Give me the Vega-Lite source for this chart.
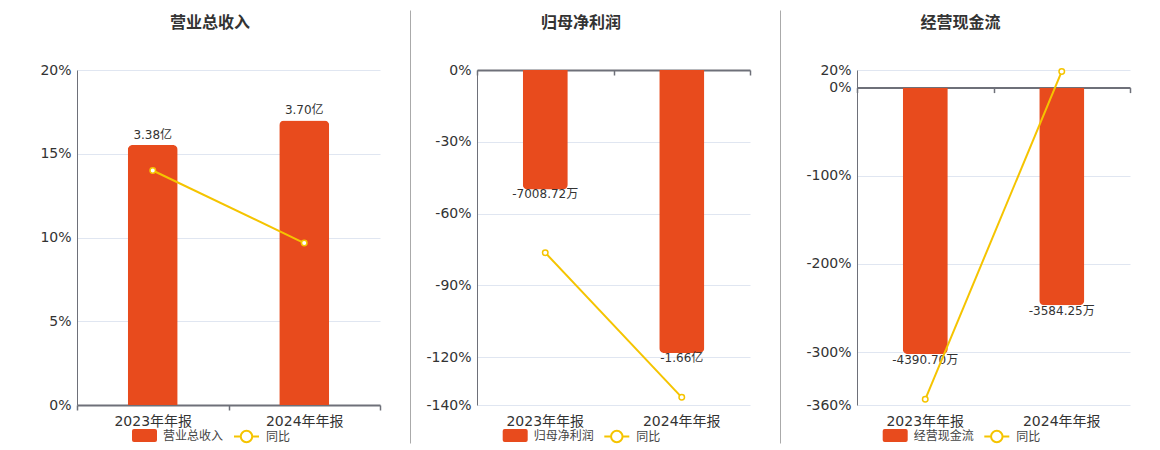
{
  "$schema": "https://vega.github.io/schema/vega-lite/v6.json",
  "padding": {"left": 0, "top": 15, "right": 0, "bottom": 0},
  "autosize": {"type": "pad"},
  "spacing": 4,
  "config": {"view": {"stroke": null}, "font": "DejaVu Sans, Noto Sans CJK SC"},
  "resolve": {"scale": {"color": "independent", "stroke": "independent"}},
  "hconcat": [
    {
      "width": 303,
      "height": 335,
      "title": {"text": "营业总收入", "fontSize": 16, "fontWeight": "bold", "color": "#333333", "font": "DejaVu Sans, Noto Sans CJK SC", "anchor": "middle", "frame": "group", "dx": -18.5, "offset": 32},
      "data": {"values": [
        {"period": "2023年年报", "value": 33800, "label": "3.38亿", "yoy": 14.0, "series": "营业总收入", "s2": "同比"},
        {"period": "2024年年报", "value": 37000, "label": "3.70亿", "yoy": 9.67, "series": "营业总收入", "s2": "同比"}
      ]},
      "layer": [
        {"layer": [
          {"mark": {"type": "bar", "width": {"band": 0.33}, "cornerRadiusTopLeft": 5, "cornerRadiusTopRight": 5},
           "encoding": {
             "x": {"field": "period", "type": "nominal", "sort": null, "scale": {"paddingInner": 0, "paddingOuter": 0},
                   "axis": {"orient": "bottom", "title": null, "domain": true, "domainColor": "#6E7079", "domainWidth": 2, "ticks": true, "tickBand": "extent", "tickSize": 5, "tickColor": "#6E7079", "tickWidth": 1.5, "labelAngle": 0, "labelFontSize": 14, "labelColor": "#333333", "labelFont": "DejaVu Sans, Noto Sans CJK SC", "labelPadding": 4, "grid": false}},
             "y": {"field": "value", "type": "quantitative", "scale": {"domain": [-4941, 51365], "range": [373, -60], "nice": false, "zero": false},
                   "axis": {"orient": "right", "offset": 30, "title": null, "ticks": false, "labels": false, "grid": false, "domain": true, "domainColor": "#AAAAAA", "domainWidth": 1}},
             "color": {"field": "series", "type": "nominal", "scale": {"range": ["#E84B1D"]},
                       "legend": {"orient": "none", "legendX": 55, "legendY": 353, "direction": "horizontal", "title": null, "padding": 0, "symbolType": "M-0.84,-0.52L0.84,-0.52Q1,-0.52,1,-0.36L1,0.36Q1,0.52,0.84,0.52L-0.84,0.52Q-1,0.52,-1,0.36L-1,-0.36Q-1,-0.52,-0.84,-0.52Z", "symbolSize": 625, "symbolStrokeWidth": 0, "labelFontSize": 12, "labelColor": "#444444", "labelFont": "DejaVu Sans, Noto Sans CJK SC", "labelOffset": 6}}
           }},
          {"mark": {"type": "text", "fontSize": 12, "color": "#333333", "dy": -6, "baseline": "alphabetic", "font": "DejaVu Sans, Noto Sans CJK SC"},
           "encoding": {
             "x": {"field": "period", "type": "nominal", "sort": null},
             "y": {"field": "value", "type": "quantitative", "scale": {"domain": [-4941, 51365], "range": [373, -60], "nice": false, "zero": false}},
             "text": {"field": "label"}
           }}
        ]},
        {"mark": {"type": "line", "color": "#F5C400", "strokeWidth": 2, "point": {"filled": false, "fill": "#ffffff", "size": 30, "strokeWidth": 1.5}},
         "encoding": {
           "x": {"field": "period", "type": "nominal", "sort": null, "axis": null},
           "y": {"field": "yoy", "type": "quantitative", "scale": {"domain": [0, 20], "nice": false, "zero": false},
                 "axis": {"orient": "left", "values": [0, 5, 10, 15, 20], "labelExpr": "datum.value + '%'", "title": null, "ticks": false, "domain": true, "domainColor": "#6E7079", "domainWidth": 1, "grid": true, "gridColor": "#E0E6F1", "labelFontSize": 14, "labelColor": "#333333", "labelFont": "DejaVu Sans, Noto Sans CJK SC", "labelPadding": 6, "minExtent": 77, "maxExtent": 77}},
           "stroke": {"field": "s2", "type": "nominal", "scale": {"range": ["#F5C400"]},
                      "legend": {"orient": "none", "legendX": 156, "legendY": 353, "direction": "horizontal", "title": null, "padding": 0, "symbolType": "M-1,0L-0.46,0M0.46,0L1,0M0.46,0A0.46,0.46,0,1,1,-0.46,0A0.46,0.46,0,1,1,0.46,0Z", "symbolSize": 625, "symbolStrokeWidth": 2, "symbolFillColor": "#ffffff", "labelFontSize": 12, "labelColor": "#444444", "labelFont": "DejaVu Sans, Noto Sans CJK SC", "labelOffset": 6}}
         }}
      ],
      "resolve": {"scale": {"y": "independent"}, "axis": {"x": "independent"}}
    },
    {
      "width": 273,
      "height": 335,
      "title": {"text": "归母净利润", "fontSize": 16, "fontWeight": "bold", "color": "#333333", "font": "DejaVu Sans, Noto Sans CJK SC", "anchor": "middle", "frame": "group", "dx": -32.5, "offset": 32},
      "data": {"values": [
        {"period": "2023年年报", "value": -7008.72, "label": "-7008.72万", "yoy": -76.35, "series": "归母净利润", "s2": "同比"},
        {"period": "2024年年报", "value": -16600, "label": "-1.66亿", "yoy": -136.8, "series": "归母净利润", "s2": "同比"}
      ]},
      "layer": [
        {"layer": [
          {"mark": {"type": "bar", "width": {"band": 0.33}, "cornerRadiusBottomLeft": 5, "cornerRadiusBottomRight": 5},
           "encoding": {
             "x": {"field": "period", "type": "nominal", "sort": null, "scale": {"paddingInner": 0, "paddingOuter": 0},
                   "axis": {"orient": "bottom", "title": null, "domain": false, "ticks": false, "labelAngle": 0, "labelFontSize": 14, "labelColor": "#333333", "labelFont": "DejaVu Sans, Noto Sans CJK SC", "labelPadding": 9, "grid": false}},
             "y": {"field": "value", "type": "quantitative", "scale": {"domain": [-21877, 3519], "range": [373, -60], "nice": false, "zero": false},
                   "axis": {"orient": "right", "offset": 30, "title": null, "ticks": false, "labels": false, "grid": false, "domain": true, "domainColor": "#AAAAAA", "domainWidth": 1}},
             "color": {"field": "series", "type": "nominal", "scale": {"range": ["#E84B1D"]},
                       "legend": {"orient": "none", "legendX": 25.7, "legendY": 353, "direction": "horizontal", "title": null, "padding": 0, "symbolType": "M-0.84,-0.52L0.84,-0.52Q1,-0.52,1,-0.36L1,0.36Q1,0.52,0.84,0.52L-0.84,0.52Q-1,0.52,-1,0.36L-1,-0.36Q-1,-0.52,-0.84,-0.52Z", "symbolSize": 625, "symbolStrokeWidth": 0, "labelFontSize": 12, "labelColor": "#444444", "labelFont": "DejaVu Sans, Noto Sans CJK SC", "labelOffset": 6}}
           }},
          {"mark": {"type": "text", "fontSize": 12, "color": "#333333", "dy": 9, "baseline": "alphabetic", "font": "DejaVu Sans, Noto Sans CJK SC"},
           "encoding": {
             "x": {"field": "period", "type": "nominal", "sort": null},
             "y": {"field": "value", "type": "quantitative", "scale": {"domain": [-21877, 3519], "range": [373, -60], "nice": false, "zero": false}},
             "text": {"field": "label"}
           }}
        ]},
        {"mark": {"type": "line", "color": "#F5C400", "strokeWidth": 2, "point": {"filled": false, "fill": "#ffffff", "size": 30, "strokeWidth": 1.5}},
         "encoding": {
           "x": {"field": "period", "type": "nominal", "sort": null,
                 "axis": {"orient": "top", "offset": 0, "title": null, "labels": false, "domain": true, "domainColor": "#6E7079", "domainWidth": 2, "ticks": true, "tickBand": "extent", "tickSize": -5, "tickColor": "#6E7079", "tickWidth": 1.5, "grid": false}},
           "y": {"field": "yoy", "type": "quantitative", "scale": {"domain": [-140, 0], "nice": false, "zero": false},
                 "axis": {"orient": "left", "values": [0, -30, -60, -90, -120, -140], "labelExpr": "datum.value + '%'", "title": null, "ticks": false, "domain": true, "domainColor": "#6E7079", "domainWidth": 1, "grid": true, "gridColor": "#E0E6F1", "labelFontSize": 14, "labelColor": "#333333", "labelFont": "DejaVu Sans, Noto Sans CJK SC", "labelPadding": 6, "minExtent": 62.5, "maxExtent": 62.5}},
           "stroke": {"field": "s2", "type": "nominal", "scale": {"range": ["#F5C400"]},
                      "legend": {"orient": "none", "legendX": 126.3, "legendY": 353, "direction": "horizontal", "title": null, "padding": 0, "symbolType": "M-1,0L-0.46,0M0.46,0L1,0M0.46,0A0.46,0.46,0,1,1,-0.46,0A0.46,0.46,0,1,1,0.46,0Z", "symbolSize": 625, "symbolStrokeWidth": 2, "symbolFillColor": "#ffffff", "labelFontSize": 12, "labelColor": "#444444", "labelFont": "DejaVu Sans, Noto Sans CJK SC", "labelOffset": 6}}
         }}
      ],
      "resolve": {"scale": {"y": "independent"}, "axis": {"x": "independent"}}
    },
    {
      "width": 273,
      "height": 335,
      "title": {"text": "经营现金流", "fontSize": 16, "fontWeight": "bold", "color": "#333333", "font": "DejaVu Sans, Noto Sans CJK SC", "anchor": "middle", "frame": "group", "dx": -33, "offset": 32},
      "data": {"values": [
        {"period": "2023年年报", "value": -4390.70, "label": "-4390.70万", "yoy": -353.5, "series": "经营现金流", "s2": "同比"},
        {"period": "2024年年报", "value": -3584.25, "label": "-3584.25万", "yoy": 18.37, "series": "经营现金流", "s2": "同比"}
      ]},
      "layer": [
        {"layer": [
          {"mark": {"type": "bar", "width": {"band": 0.33}, "cornerRadiusBottomLeft": 5, "cornerRadiusBottomRight": 5},
           "encoding": {
             "x": {"field": "period", "type": "nominal", "sort": null, "scale": {"paddingInner": 0, "paddingOuter": 0},
                   "axis": {"orient": "bottom", "title": null, "domain": false, "ticks": false, "labelAngle": 0, "labelFontSize": 14, "labelColor": "#333333", "labelFont": "DejaVu Sans, Noto Sans CJK SC", "labelPadding": 9, "grid": false}},
             "y": {"field": "value", "type": "quantitative", "scale": {"domain": [-5855, 1279], "range": [373, -60], "nice": false, "zero": false},
                   "axis": {"orient": "right", "offset": 30, "title": null, "ticks": false, "labels": false, "grid": false, "domain": true, "domainColor": "#AAAAAA", "domainOpacity": 0, "domainWidth": 1}},
             "color": {"field": "series", "type": "nominal", "scale": {"range": ["#E84B1D"]},
                       "legend": {"orient": "none", "legendX": 25.7, "legendY": 353, "direction": "horizontal", "title": null, "padding": 0, "symbolType": "M-0.84,-0.52L0.84,-0.52Q1,-0.52,1,-0.36L1,0.36Q1,0.52,0.84,0.52L-0.84,0.52Q-1,0.52,-1,0.36L-1,-0.36Q-1,-0.52,-0.84,-0.52Z", "symbolSize": 625, "symbolStrokeWidth": 0, "labelFontSize": 12, "labelColor": "#444444", "labelFont": "DejaVu Sans, Noto Sans CJK SC", "labelOffset": 6}}
           }},
          {"mark": {"type": "text", "fontSize": 12, "color": "#333333", "dy": 10, "baseline": "alphabetic", "font": "DejaVu Sans, Noto Sans CJK SC"},
           "encoding": {
             "x": {"field": "period", "type": "nominal", "sort": null},
             "y": {"field": "value", "type": "quantitative", "scale": {"domain": [-5855, 1279], "range": [373, -60], "nice": false, "zero": false}},
             "text": {"field": "label"}
           }}
        ]},
        {"mark": {"type": "line", "color": "#F5C400", "strokeWidth": 2, "point": {"filled": false, "fill": "#ffffff", "size": 30, "strokeWidth": 1.5}},
         "encoding": {
           "x": {"field": "period", "type": "nominal", "sort": null,
                 "axis": {"orient": "top", "offset": -17.6, "title": null, "labels": false, "domain": true, "domainColor": "#6E7079", "domainWidth": 2, "ticks": true, "tickBand": "extent", "tickSize": -5, "tickColor": "#6E7079", "tickWidth": 1.5, "grid": false}},
           "y": {"field": "yoy", "type": "quantitative", "scale": {"domain": [-360, 20], "nice": false, "zero": false},
                 "axis": {"orient": "left", "values": [20, 0, -100, -200, -300, -360], "labelExpr": "datum.value + '%'", "title": null, "ticks": false, "domain": true, "domainColor": "#6E7079", "domainWidth": 1, "grid": true, "gridColor": "#E0E6F1", "labelFontSize": 14, "labelColor": "#333333", "labelFont": "DejaVu Sans, Noto Sans CJK SC", "labelPadding": 6, "minExtent": 72.5, "maxExtent": 72.5}},
           "stroke": {"field": "s2", "type": "nominal", "scale": {"range": ["#F5C400"]},
                      "legend": {"orient": "none", "legendX": 126.3, "legendY": 353, "direction": "horizontal", "title": null, "padding": 0, "symbolType": "M-1,0L-0.46,0M0.46,0L1,0M0.46,0A0.46,0.46,0,1,1,-0.46,0A0.46,0.46,0,1,1,0.46,0Z", "symbolSize": 625, "symbolStrokeWidth": 2, "symbolFillColor": "#ffffff", "labelFontSize": 12, "labelColor": "#444444", "labelFont": "DejaVu Sans, Noto Sans CJK SC", "labelOffset": 6}}
         }}
      ],
      "resolve": {"scale": {"y": "independent"}, "axis": {"x": "independent"}}
    }
  ]
}
